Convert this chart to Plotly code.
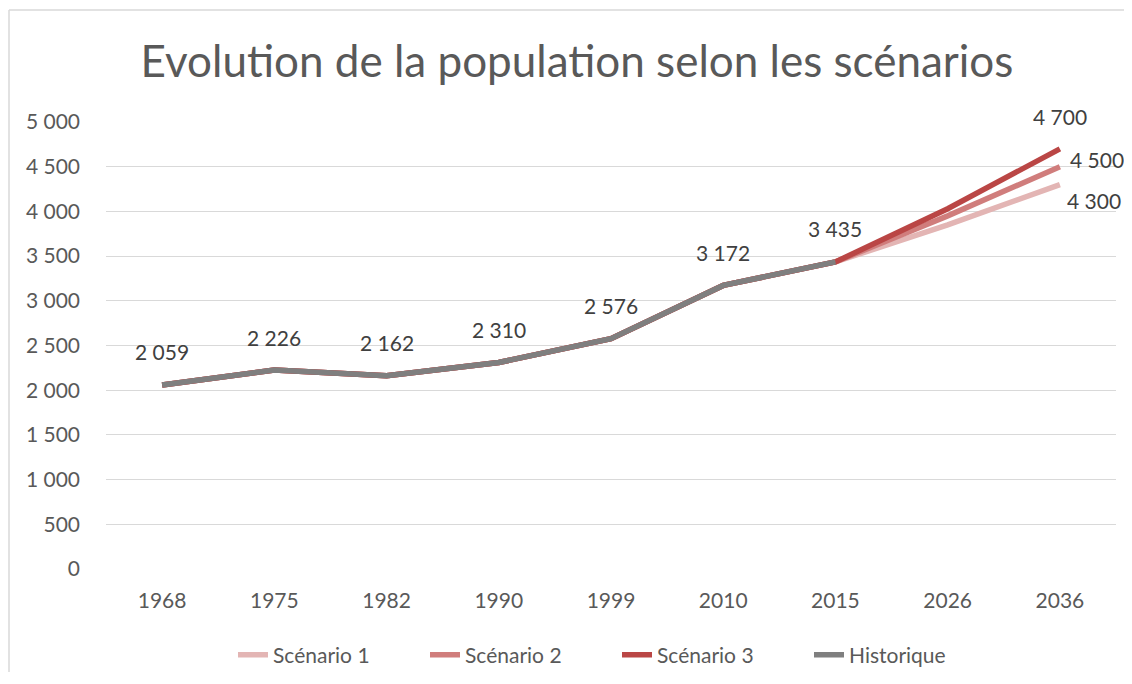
import plotly.graph_objects as go

years = ["1968", "1975", "1982", "1990", "1999", "2010", "2015", "2026", "2036"]
historique = [2059, 2226, 2162, 2310, 2576, 3172, 3435]
scenario1 = [2059, 2226, 2162, 2310, 2576, 3172, 3435, 3850, 4300]
scenario2 = [2059, 2226, 2162, 2310, 2576, 3172, 3435, 3950, 4500]
scenario3 = [2059, 2226, 2162, 2310, 2576, 3172, 3435, 4030, 4700]
y_ticks = [0, 500, 1000, 1500, 2000, 2500, 3000, 3500, 4000, 4500, 5000]

FONT = "Lato"
AXIS_COL = "#595959"
LABEL_COL = "#404040"


def fmt(v):
    return f"{v:,}".replace(",", " ")


fig = go.Figure()
series = [
    ("Scénario 1", scenario1, "#E3B5B4"),
    ("Scénario 2", scenario2, "#D07D7C"),
    ("Scénario 3", scenario3, "#BA4645"),
]
for name, vals, col in series:
    fig.add_trace(go.Scatter(x=years, y=vals, mode="lines", name=name,
                             line=dict(color=col, width=5.5)))
fig.add_trace(go.Scatter(x=years[:len(historique)], y=historique, mode="lines",
                         name="Historique", line=dict(color="#7F7F7F", width=5.5)))

lab_font = dict(family=FONT, size=21, color=LABEL_COL)
annotations = []
for i, v in enumerate(historique):
    annotations.append(dict(x=i, y=v, text=fmt(v), showarrow=False, yshift=33,
                            font=lab_font))
last = len(years) - 1
annotations.append(dict(x=last, y=scenario3[-1], text=fmt(scenario3[-1]),
                        showarrow=False, yshift=32, font=lab_font))
annotations.append(dict(x=last, y=scenario2[-1], text=fmt(scenario2[-1]),
                        showarrow=False, xshift=37, yshift=7, font=lab_font))
annotations.append(dict(x=last, y=scenario1[-1], text=fmt(scenario1[-1]),
                        showarrow=False, xshift=34, yshift=-16, font=lab_font))

# page body has an 8px margin: figure coords = screen coords - 8
OFF = 8
W, H = 1132 - 2 * OFF, 684 - 2 * OFF - 4
L = 106 - OFF
R = W - (1116 - OFF)
T = 122 - OFF
B = H - (569 - OFF)
pw, ph = W - L - R, H - T - B


def px_x(p):
    return (p - OFF - L) / pw


def px_y(p):
    return (H - B - (p - OFF)) / ph


shapes = [
    dict(type="line", xref="paper", yref="paper", x0=px_x(9), x1=px_x(9),
         y0=px_y(10), y1=px_y(720), line=dict(color="#D9D9D9", width=1.5)),
    dict(type="line", xref="paper", yref="paper", x0=px_x(9), x1=px_x(1160),
         y0=px_y(10), y1=px_y(10), line=dict(color="#D9D9D9", width=1.5)),
]

fig.update_layout(
    width=W, height=H,
    margin=dict(l=L, r=R, t=T, b=B),
    paper_bgcolor="white", plot_bgcolor="white",
    separators=", ",
    font=dict(family=FONT, size=21, color=AXIS_COL),
    title=dict(text="Evolution de la population selon les scénarios",
               x=(577 - OFF) / W, xref="container", xanchor="center",
               y=1 - (62 - OFF) / H, yref="container", yanchor="middle",
               font=dict(family=FONT, size=44, color=AXIS_COL)),
    xaxis=dict(type="category", range=[-0.5, len(years) - 0.5],
               showgrid=False, zeroline=False, showline=False,
               ticks="", ticklabelstandoff=17,
               tickfont=dict(family=FONT, size=21, color=AXIS_COL)),
    yaxis=dict(range=[0, 5000], tickvals=y_ticks, tickformat=",d",
               showgrid=True, gridcolor="#D9D9D9", gridwidth=1.3,
               zeroline=False, showline=False, ticks="", ticklabelstandoff=25,
               tickfont=dict(family=FONT, size=21, color=AXIS_COL)),
    legend=dict(orientation="h", xref="container", yref="container",
                x=(617 - OFF) / W, xanchor="center",
                y=1 - (655 - OFF) / H, yanchor="middle",
                font=dict(family=FONT, size=21, color=AXIS_COL),
                traceorder="normal", entrywidth=147, entrywidthmode="pixels",
                itemwidth=30),
    annotations=annotations,
    shapes=shapes,
    showlegend=True,
)

fig.write_html("out.html")
